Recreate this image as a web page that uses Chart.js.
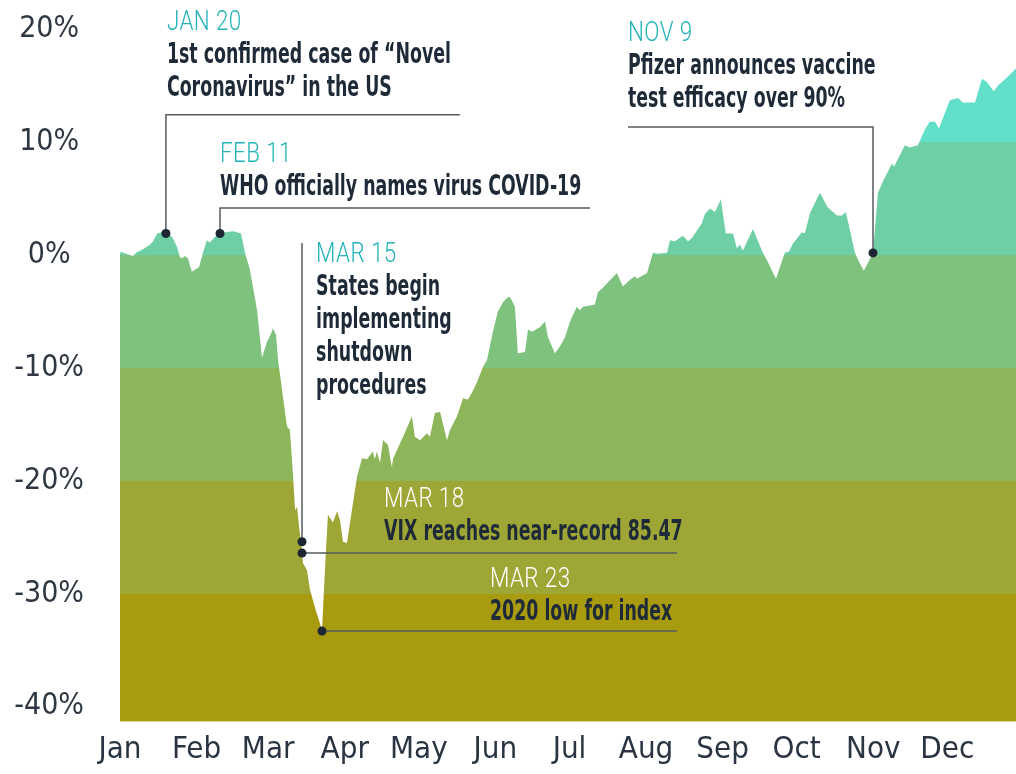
<!DOCTYPE html>
<html>
<head>
<meta charset="utf-8">
<script src="https://cdn.jsdelivr.net/npm/chart.js@4.4.1/dist/chart.umd.min.js"></script>
<style>
  html, body { margin: 0; padding: 0; background: #fff; }
  #wrap { width: 1016px; height: 774px; }
</style>
</head>
<body>
<div id="wrap"><canvas id="chart" width="1016" height="774"></canvas></div>
<script>
// day of year (Jan 1 = 0) and year-to-date return in %
const days = [0, 0.4, 1.2, 5.3, 6.5, 9.3, 12.1, 13.4, 15.0, 17.0, 18.6, 21.1, 23.1, 24.3, 25.1, 26.3, 27.5, 29.1, 30.4, 32.0,
  33.6, 35.2, 36.4, 38.5, 40.5, 42.5, 45.7, 47.4, 49.0, 50.6, 52.6, 53.8, 55.5, 57.5, 59.5, 61.5, 61.9, 63.2, 64.0, 66.0,
  67.6, 68.8, 70.0, 70.9, 71.7, 72.5, 73.7, 74.1, 75.7, 76.9, 78.9, 81.8, 82.6, 83.4, 84.2, 86.2, 87.9, 89.1, 90.3, 91.9,
  93.9, 96.0, 98.0, 100.0, 102.4, 103.2, 104.0, 105.3, 106.5, 108.5, 110.1, 110.5, 114.6, 118.2, 119.4, 121.5, 124.3, 125.5, 127.5, 129.6,
  132.4, 133.6, 136.4, 138.9, 140.9, 142.5, 144.5, 147.0, 148.6, 151.0, 153.0, 155.1, 156.7, 157.9, 159.9, 161.1, 164.0, 165.2, 166.8, 170.0,
  172.1, 173.3, 176.1, 178.1, 180.2, 182.2, 185.0, 186.2, 187.4, 192.3, 193.5, 195.5, 201.2, 203.6, 206.5, 208.5, 209.3, 213.4, 215.8, 217.8,
  221.5, 222.7, 224.7, 227.9, 230.0, 231.6, 235.6, 236.8, 238.9, 240.9, 243.3, 245.3, 248.2, 249.8, 251.0, 252.2, 256.3, 260.3, 262.3, 265.6,
  269.2, 270.9, 272.5, 276.1, 277.3, 279.4, 283.4, 286.6, 290.3, 292.3, 293.9, 297.6, 299.2, 301.2, 304.9, 306.9, 308.9, 312.6, 313.4, 317.8,
  319.8, 323.1, 325.9, 327.9, 330.0, 331.6, 336.0, 339.3, 341.3, 346.2, 349.0, 351.0, 353.8, 355.5, 359.1, 362.8];
const returns = [0.2, 0.3, 0.2, -0.1, 0.2, 0.5, 0.9, 1.2, 1.9, 2.0, 1.9, 1.6, 0.7, -0.2, -0.3, -0.1, -0.3, -1.5, -1.3, -1.1,
  0.2, 1.3, 1.1, 1.6, 1.9, 2.0, 2.1, 2.0, 1.9, 0.2, -1.3, -2.8, -4.9, -9.1, -7.7, -6.8, -6.5, -7.1, -9.3, -12.6,
  -15.2, -15.5, -19.3, -22.6, -22.3, -24.1, -26.1, -27.3, -27.9, -29.6, -31.2, -33.2, -29.6, -26.1, -23.0, -23.7, -22.7, -23.5, -25.4, -25.5,
  -22.6, -19.6, -18.0, -18.1, -17.4, -18.1, -17.4, -18.4, -16.4, -16.8, -18.8, -18.1, -16.1, -14.3, -16.1, -16.4, -15.8, -16.1, -14.0, -13.9,
  -16.4, -15.5, -14.3, -12.7, -12.8, -12.2, -11.3, -9.9, -9.3, -6.8, -5.0, -4.2, -3.8, -3.7, -4.6, -8.7, -8.6, -6.6, -6.8, -6.4,
  -5.9, -7.3, -8.7, -8.1, -7.3, -5.9, -4.6, -4.9, -4.6, -4.4, -3.3, -2.9, -1.6, -2.8, -2.2, -1.9, -2.1, -1.6, 0.2, 0.1,
  0.2, 1.3, 1.2, 1.7, 1.2, 1.5, 2.8, 3.6, 4.1, 3.8, 4.9, 1.9, 1.9, 0.6, 0.9, 0.4, 2.3, 0.2, -0.6, -2.1,
  0.2, 0.3, 1.0, 2.0, 1.9, 3.7, 5.5, 4.2, 3.5, 3.5, 3.8, 0.2, -0.6, -1.4, 0.2, 5.5, 6.5, 8.1, 7.8, 9.7,
  9.5, 9.7, 11.1, 11.8, 11.8, 11.2, 13.7, 13.9, 13.5, 13.5, 15.6, 15.3, 14.5, 15.0, 15.7, 16.5];

const monthNames = ['Jan', 'Feb', 'Mar', 'Apr', 'May', 'Jun', 'Jul', 'Aug', 'Sep', 'Oct', 'Nov', 'Dec'];
const monthStarts = [0, 31, 60, 91, 121, 152, 182, 213, 244, 274, 305, 335];
const yTicks = [20, 10, 0, -10, -20, -30, -40];

// colour bands, top to bottom, split at these return levels
const bandLimits = [10, 0, -10, -20, -30];
const bandColors = ['#62dfc9', '#6fcfa4', '#7fc27e', '#8db55a', '#9ea636', '#a99b10'];

const TEAL = '#25b4b9';
const INK = '#1f2a38';
const FONT = "'DejaVu Sans Condensed', 'Liberation Sans Narrow', 'DejaVu Sans', sans-serif";
const TITLE_FONT = "300 28px Roboto, 'DejaVu Sans Condensed', sans-serif";
const BODY_FONT = "bold 28px 'DejaVu Sans Condensed', 'DejaVu Sans', sans-serif";

const annotations = [
  { dot: [18.6, 1.9], path: [[18.6, 1.9], [18.6, 12.4], [137.6, 12.4]], at: [19.0, 19.9],
    title: 'JAN 20', lines: ['1st confirmed case of “Novel', 'Coronavirus” in the US'], color: TEAL },
  { dot: [40.5, 1.9], path: [[40.5, 1.9], [40.5, 4.16], [190.3, 4.16]], at: [40.5, 8.23],
    title: 'FEB 11', lines: ['WHO officially names virus COVID-19'], color: TEAL },
  { dot: [73.7, -25.4], path: [[73.7, -25.4], [73.7, 1.06]], at: [79.4, -0.62],
    title: 'MAR 15', lines: ['States begin', 'implementing', 'shutdown', 'procedures'], color: TEAL },
  { dot: [73.7, -26.4], path: [[73.7, -26.4], [225.5, -26.4]], at: [106.9, -22.3],
    title: 'MAR 18', lines: ['VIX reaches near-record 85.47'], color: '#ffffff' },
  { dot: [81.8, -33.3], path: [[81.8, -33.3], [225.5, -33.3]], at: [149.8, -29.4],
    title: 'MAR 23', lines: ['2020 low for index'], color: '#ffffff' },
  { dot: [304.9, 0.18], path: [[304.9, 0.18], [304.9, 11.33], [205.7, 11.33]], at: [205.7, 18.94],
    title: 'NOV 9', lines: ['Pfizer announces vaccine', 'test efficacy over 90%'], color: TEAL }
];

function bandGradient(context) {
  const { chart } = context;
  const { ctx, chartArea, scales } = chart;
  if (!chartArea) return bandColors[2];
  const top = chartArea.top, h = chartArea.bottom - chartArea.top;
  const g = ctx.createLinearGradient(0, top, 0, chartArea.bottom);
  let prev = 0;
  bandLimits.forEach((lim, i) => {
    const t = Math.min(1, Math.max(0, (scales.y.getPixelForValue(lim) - top) / h));
    g.addColorStop(prev, bandColors[i]);
    g.addColorStop(t, bandColors[i]);
    prev = t;
  });
  g.addColorStop(prev, bandColors[bandColors.length - 1]);
  g.addColorStop(1, bandColors[bandColors.length - 1]);
  return g;
}

function drawText(ctx, text, px, py, font, color, sx, spacing) {
  ctx.save();
  ctx.font = font;
  ctx.fillStyle = color;
  ctx.textAlign = 'left';
  ctx.textBaseline = 'alphabetic';
  ctx.letterSpacing = spacing || '0px';
  ctx.translate(px, py);
  ctx.scale(sx, 1);
  ctx.fillText(text, 0, 0);
  ctx.restore();
}

const annotationPlugin = {
  id: 'eventNotes',
  afterDatasetsDraw(chart) {
    const { ctx, scales: { x, y } } = chart;
    ctx.save();
    annotations.forEach(a => {
      ctx.strokeStyle = '#555b62';
      ctx.lineWidth = 1.5;
      ctx.beginPath();
      a.path.forEach(([d, v], i) => {
        const px = x.getPixelForValue(d), py = y.getPixelForValue(v);
        if (i === 0) ctx.moveTo(px, py); else ctx.lineTo(px, py);
      });
      ctx.stroke();

      ctx.fillStyle = '#1c2733';
      ctx.beginPath();
      ctx.arc(x.getPixelForValue(a.dot[0]), y.getPixelForValue(a.dot[1]), 4.5, 0, Math.PI * 2);
      ctx.fill();

      const tx = x.getPixelForValue(a.at[0]);
      const ty = y.getPixelForValue(a.at[1]);
      drawText(ctx, a.title, tx, ty, TITLE_FONT, a.color, 0.8, '0.5px');
      a.lines.forEach((line, i) => {
        drawText(ctx, line, tx, ty + 33 * (i + 1), BODY_FONT, INK, 0.69);
      });
    });
    ctx.restore();
  }
};

new Chart(document.getElementById('chart'), {
  type: 'line',
  data: {
    datasets: [{
      label: 'YTD return',
      data: days.map((d, i) => ({ x: d, y: returns[i] })),
      fill: 'start',
      backgroundColor: bandGradient,
      borderWidth: 0,
      pointRadius: 0,
      tension: 0
    }]
  },
  options: {
    responsive: false,
    animation: false,
    devicePixelRatio: 1,
    layout: { padding: 0 },
    plugins: {
      legend: { display: false },
      tooltip: { enabled: false }
    },
    scales: {
      x: {
        type: 'linear',
        min: 0,
        max: 362.8,
        grid: { display: false, drawTicks: false },
        border: { display: false },
        afterBuildTicks: scale => { scale.ticks = monthStarts.map(v => ({ value: v })); },
        afterFit: scale => {
          scale.height = 52.3;
          scale.paddingLeft = 0;
          scale.paddingRight = 0;
        },
        ticks: {
          autoSkip: false,
          maxRotation: 0,
          padding: 10,
          color: '#2a3442',
          font: { family: FONT, size: 31 },
          callback: (value, index) => monthNames[index]
        }
      },
      y: {
        min: -41.33,
        max: 22.57,
        grid: { display: false, drawTicks: false },
        border: { display: false },
        afterBuildTicks: scale => { scale.ticks = yTicks.map(v => ({ value: v })); },
        afterFit: scale => {
          scale.width = 120;
          scale.paddingTop = 0;
          scale.paddingBottom = 0;
        },
        ticks: {
          crossAlign: 'center',
          padding: 36,
          color: '#2f3742',
          font: { family: FONT, size: 30 },
          callback: value => value + '%'
        }
      }
    }
  },
  plugins: [annotationPlugin]
});
</script>
</body>
</html>
